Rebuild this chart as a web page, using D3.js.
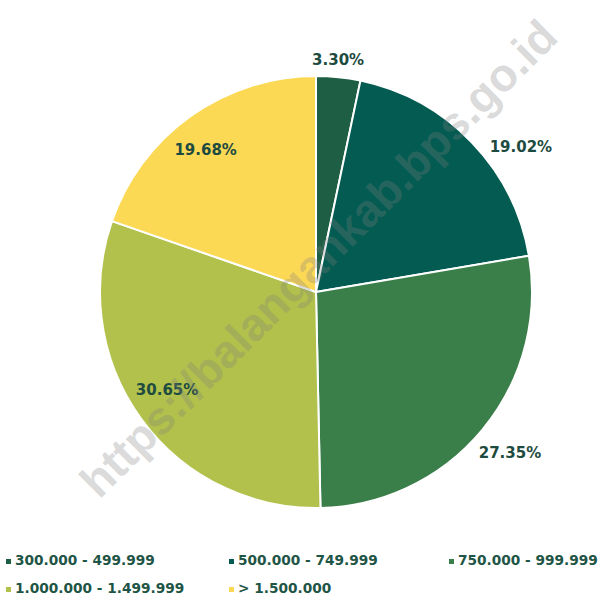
<!DOCTYPE html>
<html>
<head>
<meta charset="utf-8">
<script src="https://cdn.jsdelivr.net/npm/d3@7"></script>
<style>
  html, body { margin: 0; padding: 0; background: #ffffff; }
  svg { display: block; }
</style>
</head>
<body>
<svg id="chart" width="600" height="600"></svg>
<script>
// Income brackets (Rupiah) and their share of households, in percent
const categories = [
  "300.000 - 499.999",
  "500.000 - 749.999",
  "750.000 - 999.999",
  "1.000.000 - 1.499.999",
  "> 1.500.000"
];
const shares = [3.30, 19.02, 27.35, 30.65, 19.68];
const colors = ["#1d5e45", "#035b52", "#3a7e4a", "#b1c14b", "#fcd955"];

// Label placement: distance from centre and small angular shift (degrees)
const labelRadius = [233, 251, 252, 178, 180];
const labelShift = [-0.5, 8.6, 0.1, 2.8, -2.4];

const svg = d3.select("#chart");
const cx = 316, cy = 292, radius = 216;

const data = categories.map((c, i) => ({ category: c, value: shares[i], color: colors[i], i }));

const pie = d3.pie().value(d => d.value).sort(null).startAngle(0).endAngle(2 * Math.PI);
const arcs = pie(data);
const arc = d3.arc().innerRadius(0).outerRadius(radius);

const g = svg.append("g").attr("transform", `translate(${cx},${cy})`);

g.selectAll("path.slice")
  .data(arcs)
  .join("path")
  .attr("class", "slice")
  .attr("d", arc)
  .attr("fill", d => d.data.color)
  .attr("stroke", "#ffffff")
  .attr("stroke-width", 2)
  .attr("stroke-linejoin", "round");

// Percentage labels
g.selectAll("text.pct")
  .data(arcs)
  .join("text")
  .attr("class", "pct")
  .attr("transform", d => {
    const a = (d.startAngle + d.endAngle) / 2 + labelShift[d.data.i] * Math.PI / 180;
    const r = labelRadius[d.data.i];
    return `translate(${r * Math.sin(a)},${-r * Math.cos(a)})`;
  })
  .attr("text-anchor", "middle")
  .attr("dy", "0.36em")
  .attr("font-family", "DejaVu Sans, sans-serif")
  .attr("font-weight", "bold")
  .attr("font-size", 15)
  .attr("fill", "#1e4b40")
  .text(d => d.data.value.toFixed(2) + "%");

// Legend: two rows on a three-column grid
const legendCols = [15, 238, 458];
const legendRows = [565, 593];
const legend = svg.append("g").attr("class", "legend");
const items = legend.selectAll("g.item")
  .data(data)
  .join("g")
  .attr("class", "item")
  .attr("transform", d => `translate(${legendCols[d.i % 3]},${legendRows[Math.floor(d.i / 3)]})`);

items.append("rect")
  .attr("x", -9)
  .attr("y", -6)
  .attr("width", 5)
  .attr("height", 5)
  .attr("fill", d => d.color);

items.append("text")
  .attr("x", 0)
  .attr("y", 0)
  .attr("font-family", "DejaVu Sans, sans-serif")
  .attr("font-weight", "bold")
  .attr("font-size", 13.7)
  .attr("fill", "#1f5546")
  .text(d => d.category);

// Source watermark across the chart
svg.append("text")
  .attr("transform", "translate(318,258) rotate(-45)")
  .attr("text-anchor", "middle")
  .attr("dy", "0.36em")
  .attr("font-family", "Liberation Sans, Arial, sans-serif")
  .attr("font-weight", "bold")
  .attr("font-size", 46)
  .attr("fill", "#808080")
  .attr("fill-opacity", 0.3)
  .text("https://balangankab.bps.go.id");
</script>
</body>
</html>
